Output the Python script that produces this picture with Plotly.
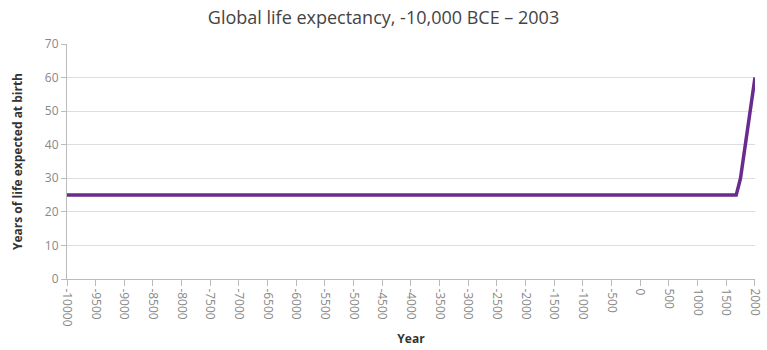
import plotly.graph_objects as go

years = [-10000, 1675, 1750, 2003]
life_expectancy = [25, 25, 30, 60]

x_tickvals = list(range(-10000, 2001, 500))
x_ticktext = [str(v) for v in x_tickvals]
y_tickvals = [0, 10, 20, 30, 40, 50, 60, 70]

fig = go.Figure()
fig.add_trace(go.Scatter(
    x=years, y=life_expectancy, mode="lines",
    line=dict(color="#6A2C8C", width=3.5),
    showlegend=False, cliponaxis=False,
))

fig.update_layout(
    width=767, height=350,
    margin=dict(l=67, r=12, t=44, b=71),
    paper_bgcolor="white", plot_bgcolor="white",
    font=dict(family="Open Sans", size=12, color="#777"),
    title=dict(text="Global life expectancy, -10,000 BCE – 2003",
               x=0.5, xref="container", xanchor="center",
               y=0.95, yref="container", yanchor="middle",
               font=dict(family="Open Sans", size=18, color="#444")),
)
fig.update_xaxes(
    range=[-10000, 2003], tickmode="array", tickvals=x_tickvals, ticktext=x_ticktext,
    tickangle=90, ticks="outside", ticklen=6, tickcolor="#bbb",
    showgrid=False, showline=True, linecolor="#bbb", zeroline=False,
    tickfont=dict(size=12, color="#888"), automargin=False,
    title=dict(text="<b>Year</b>", font=dict(size=12, color="#333"), standoff=8),
)
fig.update_yaxes(
    range=[0, 70], tickmode="array", tickvals=y_tickvals,
    ticks="outside", ticklen=5, tickcolor="#bbb",
    showgrid=True, gridcolor="#ddd", showline=True, linecolor="#bbb", zeroline=False,
    tickfont=dict(size=12, color="#888"), automargin=False,
    title=dict(text="<b>Years of life expected at birth</b>", font=dict(size=12, color="#333"), standoff=19),
)

fig.write_html("out.html")
